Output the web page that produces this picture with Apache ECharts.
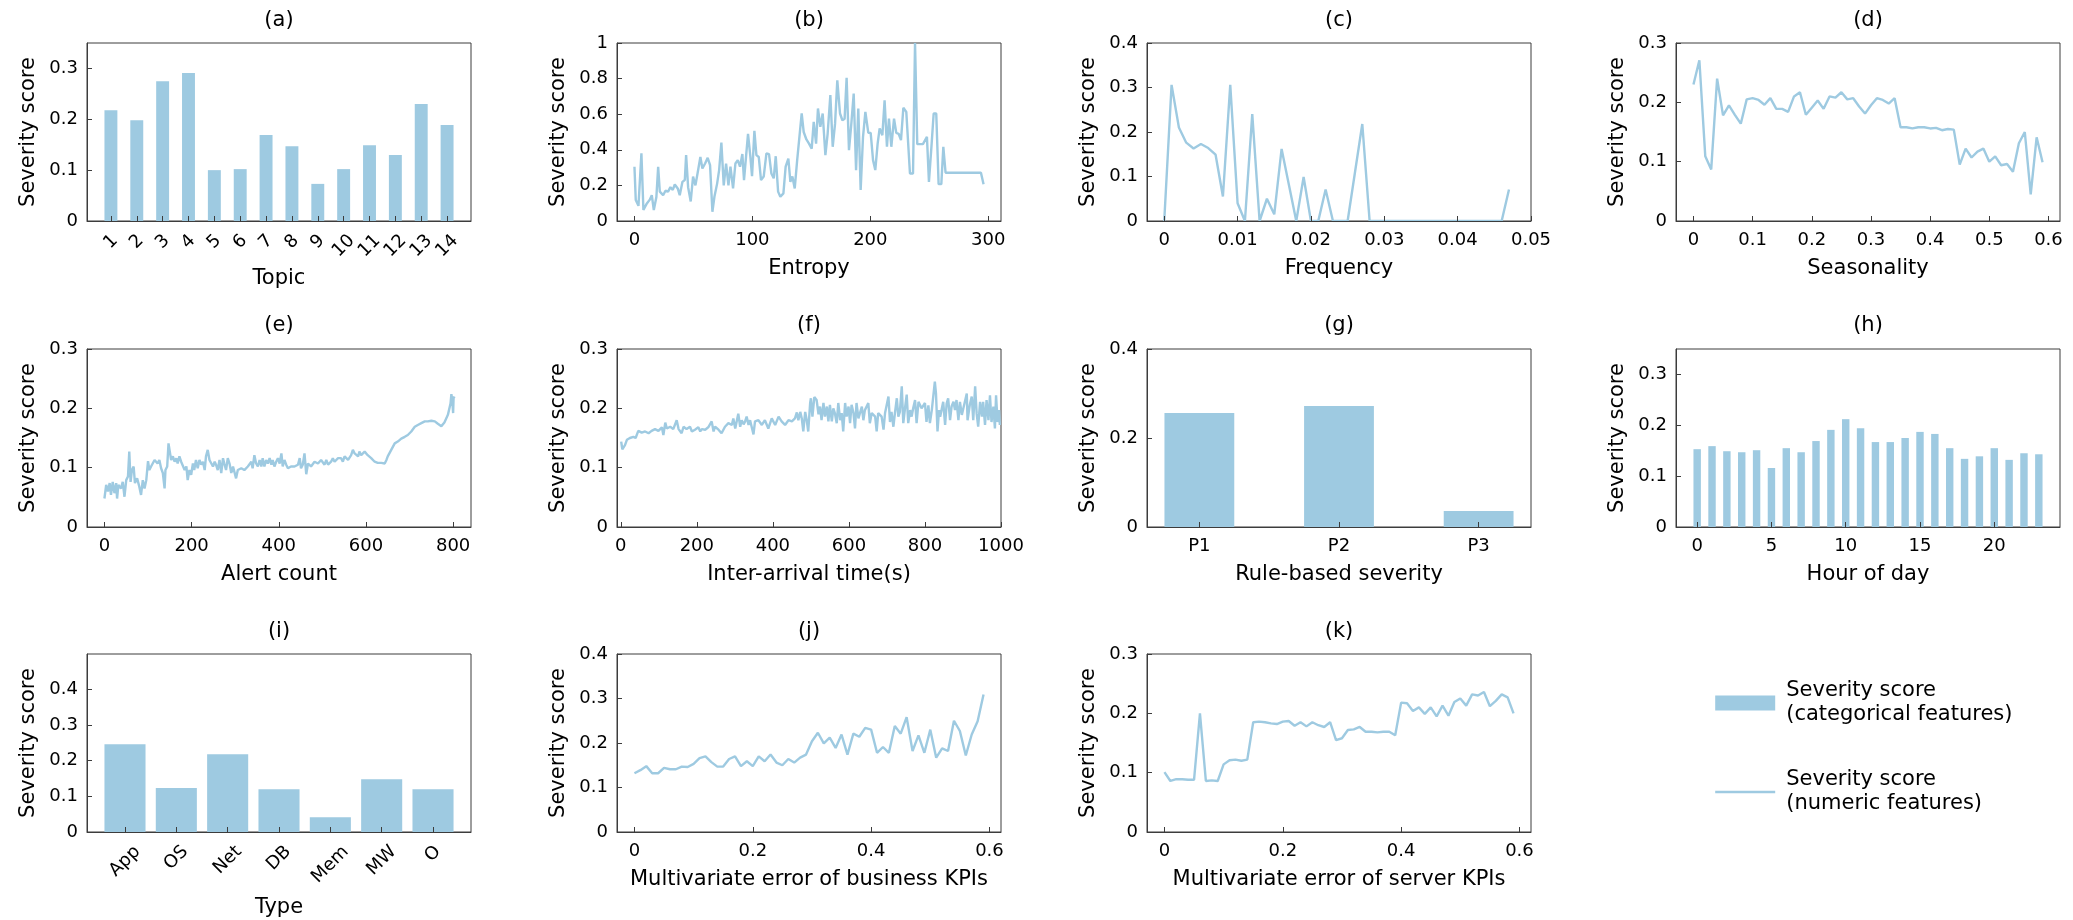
<!DOCTYPE html>
<html><head><meta charset="utf-8">
<script src="https://cdn.jsdelivr.net/npm/echarts@6/dist/echarts.min.js"></script>
<style>html,body{margin:0;padding:0;background:#fff}#c{width:2073px;height:920px}</style>
</head><body><div id="c"></div>
<script>
// ---------------- DATA ----------------
const topicPos = [1,2,3,4,5,6,7,8,9,10,11,12,13,14];
const topicLabels = ['1','2','3','4','5','6','7','8','9','10','11','12','13','14'];
const topicScore = [0.218,0.198,0.275,0.291,0.100,0.102,0.169,0.147,0.073,0.102,0.149,0.130,0.230,0.189];

const entropyPts = [[0,0.305],[1.1,0.118],[3.4,0.085],[5.9,0.38],[7.6,0.062],[10.2,0.095],[13.0,0.12],[14.7,0.145],[16.4,0.062],[18.6,0.135],[20.1,0.305],[21.5,0.165],[24.3,0.145],[26.3,0.17],[28.5,0.165],[30.5,0.19],[32.5,0.175],[34.2,0.205],[36.7,0.183],[38.4,0.145],[40.7,0.22],[42.7,0.23],[43.8,0.37],[45.5,0.19],[47.7,0.11],[49.7,0.25],[51.7,0.2],[53.7,0.275],[55.9,0.36],[57.6,0.295],[59.9,0.323],[62.1,0.355],[64.1,0.314],[66.1,0.052],[67.8,0.136],[70.1,0.21],[71.8,0.286],[73.7,0.44],[75.7,0.2],[77.7,0.323],[79.7,0.2],[81.4,0.305],[83.6,0.183],[85.6,0.323],[87.6,0.342],[89.5,0.305],[91.5,0.376],[92.9,0.23],[94.6,0.36],[96.3,0.49],[98.3,0.36],[99.7,0.252],[101.7,0.506],[103.4,0.37],[105.4,0.36],[107.3,0.23],[109.6,0.25],[111.9,0.38],[114.1,0.376],[116.1,0.267],[118.1,0.24],[119.8,0.364],[121.8,0.165],[123.7,0.136],[126.3,0.155],[128.2,0.305],[130.5,0.351],[132.2,0.22],[133.9,0.25],[135.9,0.183],[137.9,0.336],[139.5,0.336],[141.8,0.604],[143.5,0.5],[145.8,0.458],[148.0,0.435],[150.3,0.407],[152.0,0.557],[154.0,0.435],[155.6,0.632],[157.6,0.529],[159.6,0.604],[161.9,0.37],[163.8,0.49],[166.1,0.707],[168.1,0.417],[170.1,0.547],[172.0,0.79],[174.3,0.604],[176.3,0.566],[178.2,0.575],[179.9,0.805],[181.9,0.398],[183.9,0.547],[185.9,0.716],[187.9,0.286],[189.8,0.632],[191.8,0.174],[193.8,0.473],[195.8,0.613],[198.3,0.495],[200.3,0.495],[202.3,0.342],[204.2,0.286],[206.2,0.435],[207.9,0.52],[210.2,0.482],[212.1,0.678],[214.1,0.417],[215.8,0.575],[217.8,0.417],[220.1,0.575],[222.0,0.495],[224.0,0.49],[226.0,0.454],[228.0,0.636],[230.5,0.613],[231.9,0.613],[233.6,0.267],[236.2,0.267],[237.9,1.0],[239.8,0.432],[244.6,0.432],[248.0,0.473],[249.7,0.22],[252.0,0.435],[253.7,0.604],[255.9,0.604],[257.9,0.207],[260.2,0.207],[261.9,0.417],[263.8,0.271],[293.8,0.271],[296.0,0.207]];

const freqPts = [[0,0],[0.001,0.306],[0.002,0.21],[0.003,0.176],[0.004,0.163],[0.005,0.173],[0.006,0.164],[0.007,0.149],[0.008,0.055],[0.009,0.306],[0.010,0.04],[0.011,0],[0.012,0.24],[0.013,0],[0.014,0.05],[0.015,0.015],[0.016,0.162],[0.017,0.081],[0.018,0],[0.019,0.099],[0.020,0],[0.021,0],[0.022,0.071],[0.023,0],[0.024,0],[0.025,0],[0.026,0.109],[0.027,0.218],[0.028,0],[0.029,0],[0.030,0],[0.031,0],[0.032,0],[0.033,0],[0.034,0],[0.035,0],[0.036,0],[0.037,0],[0.038,0],[0.039,0],[0.040,0],[0.041,0],[0.042,0],[0.043,0],[0.044,0],[0.045,0],[0.046,0],[0.047,0.071]];

const seasonPts = [[0,0.23],[0.01,0.271],[0.02,0.109],[0.03,0.087],[0.04,0.240],[0.05,0.178],[0.06,0.195],[0.07,0.179],[0.08,0.164],[0.09,0.205],[0.10,0.207],[0.11,0.204],[0.12,0.196],[0.13,0.207],[0.14,0.189],[0.15,0.189],[0.16,0.184],[0.17,0.210],[0.18,0.217],[0.19,0.179],[0.20,0.191],[0.21,0.203],[0.22,0.189],[0.23,0.210],[0.24,0.208],[0.25,0.217],[0.26,0.205],[0.27,0.207],[0.28,0.193],[0.29,0.181],[0.30,0.195],[0.31,0.207],[0.32,0.204],[0.33,0.198],[0.34,0.207],[0.35,0.158],[0.36,0.158],[0.37,0.156],[0.38,0.158],[0.39,0.158],[0.40,0.156],[0.41,0.157],[0.42,0.153],[0.43,0.155],[0.44,0.154],[0.45,0.095],[0.46,0.122],[0.47,0.107],[0.48,0.117],[0.49,0.122],[0.50,0.100],[0.51,0.109],[0.52,0.094],[0.53,0.096],[0.54,0.083],[0.55,0.131],[0.56,0.150],[0.57,0.045],[0.58,0.141],[0.59,0.099]];

const alertPts = [[0,0.048],[4,0.071],[8,0.060],[12,0.074],[15,0.054],[19,0.076],[23,0.057],[27,0.074],[29,0.048],[32,0.071],[38,0.065],[42,0.076],[46,0.051],[50,0.079],[54,0.085],[57,0.127],[60,0.076],[63,0.096],[67,0.102],[70,0.074],[75,0.082],[80,0.068],[84,0.054],[88,0.079],[92,0.065],[96,0.079],[100,0.111],[103,0.096],[107,0.102],[111,0.099],[115,0.113],[119,0.116],[122,0.107],[126,0.113],[130,0.099],[134,0.091],[138,0.065],[140,0.096],[144,0.102],[147,0.141],[150,0.127],[153,0.113],[157,0.119],[161,0.110],[165,0.116],[168,0.107],[172,0.119],[176,0.110],[180,0.113],[184,0.096],[188,0.102],[191,0.079],[195,0.096],[199,0.088],[203,0.107],[206,0.096],[210,0.113],[214,0.099],[218,0.113],[222,0.105],[226,0.110],[230,0.096],[233,0.119],[237,0.130],[241,0.113],[245,0.116],[249,0.102],[253,0.110],[256,0.105],[260,0.096],[264,0.113],[268,0.091],[272,0.116],[275,0.107],[279,0.096],[283,0.116],[287,0.107],[291,0.091],[295,0.102],[298,0.099],[302,0.082],[306,0.096],[314,0.099],[321,0.096],[329,0.102],[333,0.105],[337,0.110],[340,0.099],[344,0.121],[348,0.107],[352,0.102],[356,0.113],[360,0.102],[363,0.116],[367,0.102],[371,0.113],[375,0.107],[379,0.116],[383,0.105],[386,0.113],[390,0.102],[394,0.110],[398,0.116],[402,0.107],[406,0.124],[409,0.102],[413,0.113],[417,0.105],[421,0.099],[428,0.102],[436,0.102],[444,0.105],[448,0.116],[451,0.099],[455,0.105],[459,0.124],[463,0.089],[467,0.107],[474,0.102],[482,0.110],[490,0.107],[497,0.113],[505,0.105],[509,0.113],[513,0.105],[520,0.110],[524,0.116],[528,0.110],[536,0.116],[543,0.116],[547,0.110],[551,0.119],[559,0.113],[566,0.121],[570,0.130],[574,0.124],[582,0.119],[585,0.127],[589,0.121],[597,0.127],[604,0.121],[612,0.116],[620,0.110],[627,0.108],[635,0.108],[643,0.107],[647,0.113],[650,0.119],[658,0.130],[666,0.141],[673,0.144],[681,0.149],[689,0.152],[696,0.155],[704,0.161],[712,0.169],[719,0.172],[727,0.175],[735,0.178],[742,0.178],[750,0.179],[758,0.178],[765,0.174],[773,0.170],[780,0.176],[788,0.189],[792,0.189],[794,0.208],[796,0.224],[798,0.214],[800,0.192],[801,0.217],[803,0.220]];

const interPts = [[1,0.144],[4,0.131],[11,0.138],[16,0.147],[24,0.150],[33,0.152],[39,0.150],[46,0.162],[55,0.159],[64,0.161],[73,0.158],[81,0.162],[90,0.165],[99,0.162],[108,0.168],[112,0.155],[117,0.176],[121,0.166],[130,0.169],[138,0.165],[143,0.164],[147,0.180],[152,0.165],[160,0.158],[165,0.169],[173,0.165],[182,0.169],[187,0.161],[195,0.164],[204,0.168],[209,0.161],[213,0.165],[222,0.164],[230,0.168],[239,0.178],[244,0.161],[248,0.169],[257,0.164],[265,0.158],[274,0.169],[283,0.175],[292,0.172],[296,0.183],[301,0.166],[309,0.191],[314,0.169],[318,0.180],[323,0.173],[327,0.178],[331,0.186],[336,0.172],[340,0.180],[349,0.156],[353,0.178],[362,0.180],[371,0.172],[379,0.180],[388,0.166],[397,0.183],[406,0.172],[415,0.186],[423,0.178],[432,0.172],[441,0.180],[450,0.178],[458,0.183],[463,0.193],[467,0.180],[472,0.194],[476,0.183],[480,0.161],[485,0.194],[489,0.180],[493,0.161],[498,0.209],[500,0.217],[504,0.186],[509,0.219],[515,0.214],[520,0.190],[524,0.203],[528,0.180],[533,0.209],[537,0.186],[542,0.203],[546,0.178],[550,0.206],[555,0.178],[559,0.200],[563,0.192],[568,0.175],[572,0.209],[577,0.180],[581,0.192],[585,0.161],[590,0.209],[594,0.186],[599,0.203],[603,0.175],[607,0.206],[612,0.192],[616,0.166],[620,0.209],[625,0.183],[634,0.203],[638,0.180],[642,0.197],[651,0.209],[655,0.175],[660,0.192],[669,0.186],[673,0.161],[677,0.192],[686,0.186],[691,0.164],[695,0.192],[704,0.220],[708,0.177],[712,0.194],[717,0.169],[721,0.192],[726,0.217],[730,0.186],[734,0.194],[739,0.237],[743,0.175],[748,0.203],[752,0.223],[756,0.175],[761,0.197],[765,0.186],[769,0.200],[774,0.214],[778,0.175],[783,0.211],[787,0.209],[791,0.200],[796,0.203],[800,0.209],[804,0.177],[809,0.205],[813,0.175],[818,0.197],[822,0.194],[826,0.245],[829,0.225],[833,0.161],[837,0.197],[840,0.186],[844,0.189],[848,0.211],[853,0.172],[857,0.208],[861,0.217],[866,0.180],[870,0.203],[875,0.211],[879,0.197],[883,0.214],[888,0.180],[892,0.211],[897,0.189],[901,0.200],[905,0.211],[910,0.225],[912,0.180],[918,0.206],[923,0.220],[927,0.180],[932,0.237],[936,0.191],[940,0.169],[945,0.211],[950,0.186],[953,0.211],[958,0.172],[962,0.214],[967,0.180],[971,0.222],[975,0.177],[980,0.203],[984,0.166],[987,0.222],[991,0.177],[995,0.197],[997,0.172]];

const rulePos = [0,1,2];
const ruleLabels = ['P1','P2','P3'];
const ruleScore = [0.256,0.272,0.036];

const hours = [0,1,2,3,4,5,6,7,8,9,10,11,12,13,14,15,16,17,18,19,20,21,22,23];
const hourScore = [0.153,0.159,0.149,0.147,0.151,0.116,0.155,0.147,0.169,0.191,0.212,0.194,0.167,0.167,0.175,0.187,0.183,0.155,0.134,0.139,0.155,0.132,0.145,0.143];

const typePos = [0,1,2,3,4,5,6];
const typeLabels = ['App','OS','Net','DB','Mem','MW','O'];
const typeScore = [0.246,0.123,0.218,0.120,0.041,0.148,0.120];

const bizPts = [[0,0.132],[0.01,0.139],[0.02,0.148],[0.03,0.132],[0.04,0.132],[0.05,0.144],[0.06,0.141],[0.07,0.141],[0.08,0.147],[0.09,0.146],[0.10,0.153],[0.11,0.166],[0.12,0.170],[0.13,0.157],[0.14,0.147],[0.15,0.147],[0.16,0.164],[0.17,0.170],[0.18,0.148],[0.19,0.159],[0.20,0.148],[0.21,0.170],[0.22,0.159],[0.23,0.174],[0.24,0.156],[0.25,0.150],[0.26,0.164],[0.27,0.156],[0.28,0.167],[0.29,0.174],[0.30,0.204],[0.31,0.223],[0.32,0.199],[0.33,0.212],[0.34,0.189],[0.35,0.219],[0.36,0.174],[0.37,0.221],[0.38,0.214],[0.39,0.234],[0.40,0.230],[0.41,0.178],[0.42,0.191],[0.43,0.178],[0.44,0.238],[0.45,0.221],[0.46,0.258],[0.47,0.182],[0.48,0.217],[0.49,0.178],[0.50,0.230],[0.51,0.167],[0.52,0.188],[0.53,0.182],[0.54,0.250],[0.55,0.227],[0.56,0.172],[0.57,0.219],[0.58,0.249],[0.59,0.309]];

const serverPts = [[0,0.101],[0.01,0.086],[0.02,0.089],[0.03,0.089],[0.04,0.088],[0.05,0.088],[0.06,0.200],[0.07,0.086],[0.08,0.087],[0.09,0.086],[0.10,0.114],[0.11,0.121],[0.12,0.122],[0.13,0.120],[0.14,0.122],[0.15,0.185],[0.16,0.186],[0.17,0.185],[0.18,0.183],[0.19,0.182],[0.20,0.186],[0.21,0.187],[0.22,0.179],[0.23,0.185],[0.24,0.178],[0.25,0.185],[0.26,0.180],[0.27,0.177],[0.28,0.185],[0.29,0.155],[0.30,0.158],[0.31,0.172],[0.32,0.173],[0.33,0.177],[0.34,0.169],[0.35,0.169],[0.36,0.168],[0.37,0.169],[0.38,0.169],[0.39,0.163],[0.40,0.218],[0.41,0.217],[0.42,0.204],[0.43,0.210],[0.44,0.199],[0.45,0.210],[0.46,0.195],[0.47,0.213],[0.48,0.196],[0.49,0.219],[0.50,0.225],[0.51,0.213],[0.52,0.232],[0.53,0.230],[0.54,0.236],[0.55,0.212],[0.56,0.221],[0.57,0.232],[0.58,0.227],[0.59,0.200]];

const CAT_NAME = 'Severity score\n(categorical features)';
const NUM_NAME = 'Severity score\n(numeric features)';
const Y_NAME = 'Severity score';

// ---------------- LAYOUT / STYLE ----------------
const FONT = 'DejaVu Sans';
const BLUE = '#9ecae1';
const AXC = '#3c3c3c';
const colLeft = [87, 617, 1147, 1676];
const rowTop = [43, 349, 654];
const GW = 384, GH = 178;
const titleTop = [10, 315, 621];

const panels = [
  {t:'(a)', c:0, r:0, kind:'bar', pos:topicPos, vals:topicScore, labels:topicLabels, rot:true, bw:0.5, xMin:0.075, xMax:14.925, xTicks:topicPos, yMax:0.35, yTicks:[0,0.1,0.2,0.3], xName:'Topic', xGap:47},
  {t:'(b)', c:1, r:0, kind:'line', pts:entropyPts, xMin:-14.8, xMax:310.8, xTicks:[0,100,200,300], yMax:1, yTicks:[0,0.2,0.4,0.6,0.8,1], xName:'Entropy'},
  {t:'(c)', c:2, r:0, kind:'line', pts:freqPts, xMin:-0.00235, xMax:0.05, xTicks:[0,0.01,0.02,0.03,0.04,0.05], yMax:0.4, yTicks:[0,0.1,0.2,0.3,0.4], xName:'Frequency'},
  {t:'(d)', c:3, r:0, kind:'line', pts:seasonPts, xMin:-0.0295, xMax:0.6195, xTicks:[0,0.1,0.2,0.3,0.4,0.5,0.6], yMax:0.3, yTicks:[0,0.1,0.2,0.3], xName:'Seasonality'},
  {t:'(e)', c:0, r:1, kind:'line', pts:alertPts, xMin:-40, xMax:841, xTicks:[0,200,400,600,800], yMax:0.3, yTicks:[0,0.1,0.2,0.3], xName:'Alert count'},
  {t:'(f)', c:1, r:1, kind:'line', pts:interPts, xMin:-10, xMax:1000, xTicks:[0,200,400,600,800,1000], yMax:0.3, yTicks:[0,0.1,0.2,0.3], xName:'Inter-arrival time(s)'},
  {t:'(g)', c:2, r:1, kind:'bar', pos:rulePos, vals:ruleScore, labels:ruleLabels, bw:0.5, xMin:-0.375, xMax:2.375, xTicks:rulePos, yMax:0.4, yTicks:[0,0.2,0.4], xName:'Rule-based severity'},
  {t:'(h)', c:3, r:1, kind:'bar', pos:hours, vals:hourScore, bw:0.5, xMin:-1.425, xMax:24.425, xTicks:[0,5,10,15,20], yMax:0.35, yTicks:[0,0.1,0.2,0.3], xName:'Hour of day'},
  {t:'(i)', c:0, r:2, kind:'bar', pos:typePos, vals:typeScore, labels:typeLabels, rot:true, bw:0.8, xMin:-0.74, xMax:6.74, xTicks:typePos, yMax:0.499, yTicks:[0,0.1,0.2,0.3,0.4], xName:'Type', xGap:65},
  {t:'(j)', c:1, r:2, kind:'line', pts:bizPts, xMin:-0.0295, xMax:0.6195, xTicks:[0,0.2,0.4,0.6], yMax:0.4, yTicks:[0,0.1,0.2,0.3,0.4], xName:'Multivariate error of business KPIs'},
  {t:'(k)', c:2, r:2, kind:'line', pts:serverPts, xMin:-0.0295, xMax:0.6195, xTicks:[0,0.2,0.4,0.6], yMax:0.3, yTicks:[0,0.1,0.2,0.3], xName:'Multivariate error of server KPIs'}
];

const mctx = document.createElement('canvas').getContext('2d');
mctx.font = '18px "' + FONT + '"';
function rotatedRich(labels, P) {
  const rich = {};
  labels.forEach((s, i) => {
    const w = mctx.measureText(s).width;
    const h = 21;
    const D = P + (w + h) * Math.SQRT1_2 / 2;
    const p = D * Math.SQRT2;
    rich['r' + i] = {padding: [p, p, 0, 0], fontSize: 18, fontFamily: FONT, color: '#000'};
  });
  return rich;
}
const plainNum = v => String(v);

const grids = [], xAxes = [], yAxes = [], series = [], titles = [];
panels.forEach((p, i) => {
  const left = colLeft[p.c], top = rowTop[p.r];
  grids.push({left: left, top: top, width: GW, height: GH, show: true, borderColor: AXC, borderWidth: 1, backgroundColor: 'transparent', containLabel: false, outerBoundsMode: 'none'});
  titles.push({text: p.t, left: left + GW / 2, top: titleTop[p.r], textAlign: 'center', padding: 0,
    textStyle: {fontSize: 21, fontWeight: 'normal', fontFamily: FONT, color: '#000'}});
  const xLabel = {customValues: p.xTicks, fontSize: 18, fontFamily: FONT, color: '#000', margin: 10, formatter: plainNum};
  if (p.labels && p.rot) {
    Object.assign(xLabel, {rotate: 45, align: 'center', verticalAlign: 'middle', margin: 0,
      rich: rotatedRich(p.labels, 9.5),
      formatter: v => { const k = p.pos.indexOf(v); return '{r' + k + '|' + p.labels[k] + '}'; }});
  } else if (p.labels) {
    xLabel.formatter = v => p.labels[p.pos.indexOf(v)];
  }
  xAxes.push({type: 'value', gridIndex: i, min: p.xMin, max: p.xMax, z: 5,
    name: p.xName, nameLocation: 'middle', nameGap: p.xGap || 37, nameMoveOverlap: false,
    nameTextStyle: {fontSize: 21, fontFamily: FONT, color: '#000'},
    axisLine: {show: true, onZero: false, lineStyle: {color: AXC, width: 1}},
    axisTick: {show: true, inside: true, length: 5, customValues: p.xTicks, lineStyle: {color: AXC, width: 1}},
    axisLabel: xLabel, splitLine: {show: false}});
  yAxes.push({type: 'value', gridIndex: i, min: 0, max: p.yMax, z: 5,
    name: Y_NAME, nameLocation: 'middle', nameGap: 48, nameMoveOverlap: false,
    nameTextStyle: {fontSize: 21, fontFamily: FONT, color: '#000'},
    axisLine: {show: true, onZero: false, lineStyle: {color: AXC, width: 1}},
    axisTick: {show: true, inside: true, length: 5, customValues: p.yTicks, lineStyle: {color: AXC, width: 1}},
    axisLabel: {customValues: p.yTicks, fontSize: 18, fontFamily: FONT, color: '#000', margin: 9, formatter: plainNum},
    splitLine: {show: false}});
  if (p.kind === 'bar') {
    const barPx = p.bw * GW / (p.xMax - p.xMin);
    series.push({type: 'bar', name: CAT_NAME, xAxisIndex: i, yAxisIndex: i, barWidth: barPx,
      itemStyle: {color: BLUE}, data: p.vals.map((v, k) => [p.pos[k], v])});
  } else {
    series.push({type: 'line', name: NUM_NAME, xAxisIndex: i, yAxisIndex: i, symbol: 'none', showSymbol: false,
      lineStyle: {color: BLUE, width: 2.4}, itemStyle: {color: BLUE}, data: p.pts});
  }
});

const chart = echarts.init(document.getElementById('c'), null, {renderer: 'canvas'});
chart.setOption({
  animation: false,
  backgroundColor: '#fff',
  title: titles,
  grid: grids,
  xAxis: xAxes,
  yAxis: yAxes,
  legend: {orient: 'vertical', left: 1714, top: 679, padding: 0, itemWidth: 60, itemHeight: 15, itemGap: 41,
    textStyle: {fontSize: 21, lineHeight: 24, fontFamily: FONT, color: '#000', padding: [0, 0, 0, 6]},
    data: [{name: CAT_NAME, icon: 'rect'},
           {name: NUM_NAME, itemStyle: {opacity: 0, borderWidth: 0}, lineStyle: {color: BLUE, width: 2.4, opacity: 1}}]},
  series: series
});
</script></body></html>
